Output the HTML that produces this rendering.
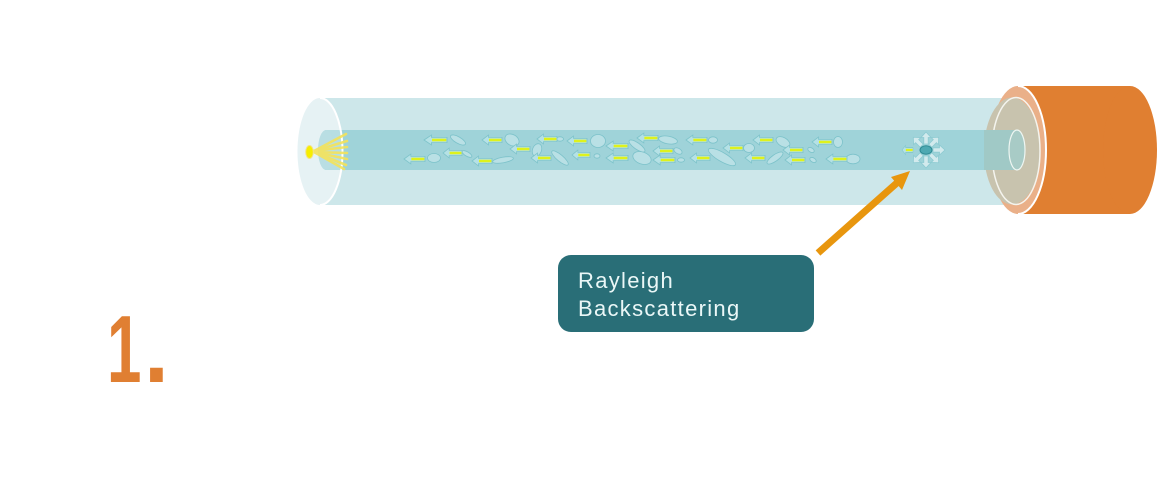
<!DOCTYPE html>
<html><head><meta charset="utf-8"><style>
html,body{margin:0;padding:0;background:#fff;}
body{position:relative;width:1159px;height:496px;overflow:hidden;}
svg{display:block;position:absolute;left:0;top:0;}
.num{position:absolute;top:302px;font-family:"Liberation Sans",Arial,sans-serif;font-weight:bold;font-size:96px;line-height:96px;color:#e07f32;white-space:nowrap;transform-origin:0 0;}
</style></head><body>
<svg width="1159" height="496" viewBox="0 0 1159 496" xmlns="http://www.w3.org/2000/svg">
<defs>
<g id="ar"><polygon points="0,0 6.5,-5 6.5,-2.6 20,-2.6 20,2.6 6.5,2.6 6.5,5" fill="#b5e1e5" stroke="#7fc4cb" stroke-width="0.8"/><line x1="7" y1="0" x2="19.4" y2="0" stroke="#def21c" stroke-width="2.6"/></g>
<g id="sa"><polygon points="0,0 5,5.5 2.2,5.5 2.2,12 -2.2,12 -2.2,5.5 -5,5.5" fill="#d2eaed" stroke="#8ccad1" stroke-width="0.8"/></g>
</defs>

<!-- tube body -->
<rect x="320" y="98" width="696" height="107" fill="#cde7ea"/>

<!-- orange connector -->
<rect x="1018" y="86" width="112" height="128" fill="#e07f31"/>
<ellipse cx="1130" cy="150" rx="27" ry="64" fill="#e07f31"/>
<ellipse cx="1018" cy="150" rx="28" ry="64" fill="#eab089"/>
<path d="M1018,86 A28,64 0 0 1 1018,214" fill="none" stroke="#fff" stroke-width="2"/>
<ellipse cx="1012" cy="151" rx="28" ry="53.5" fill="#c8c3ae"/>
<ellipse cx="1016" cy="151" rx="24" ry="53.5" fill="none" stroke="#f4f4ee" stroke-width="1.5"/>

<!-- left end face -->
<ellipse cx="320" cy="151.5" rx="22.5" ry="53.5" fill="#deeef1"/>

<!-- core -->
<rect x="325" y="130" width="692" height="40" fill="#9fd3d9"/>
<rect x="984" y="130" width="33" height="40" fill="#a0c9c6"/>
<ellipse cx="1017" cy="150" rx="8" ry="20" fill="#a8cbc6" stroke="#eef6f2" stroke-width="1.2"/>
<ellipse cx="320" cy="151.5" rx="22.5" ry="53.5" fill="#ffffff" opacity="0.25"/>
<ellipse cx="326" cy="150" rx="8" ry="20" fill="#b9dee3"/>
<path d="M320,98 A22.5,53.5 0 0 1 320,205" fill="none" stroke="#fff" stroke-width="2"/>

<!-- light source -->
<g stroke="#f4e35a" stroke-width="2.6" stroke-linecap="round" opacity="0.9">
<line x1="314" y1="151" x2="346" y2="134"/>
<line x1="314" y1="151" x2="347" y2="141"/>
<line x1="314" y1="151" x2="347" y2="147"/>
<line x1="314" y1="152" x2="347" y2="153"/>
<line x1="314" y1="152" x2="347" y2="159"/>
<line x1="314" y1="152" x2="346" y2="165"/>
<line x1="314" y1="152" x2="344" y2="169"/>
</g>
<ellipse cx="309.5" cy="152" rx="3.8" ry="6.5" fill="#f6ee00" stroke="#f3e38a" stroke-width="1"/>

<!-- particles -->
<g fill="#b9e0e5" stroke="#7cc2ca" stroke-width="0.8">
<ellipse cx="458" cy="140" rx="8.5" ry="3.2" transform="rotate(30 458 140)"/>
<ellipse cx="512" cy="140" rx="7.5" ry="5.5" transform="rotate(30 512 140)"/>
<ellipse cx="560" cy="139" rx="3.5" ry="2.2"/>
<ellipse cx="598" cy="141" rx="7.5" ry="6.5"/>
<ellipse cx="537" cy="150" rx="4.5" ry="6.5" transform="rotate(20 537 150)"/>
<ellipse cx="467" cy="154" rx="5.5" ry="2.2" transform="rotate(30 467 154)"/>
<ellipse cx="597" cy="156" rx="3" ry="2.2"/>
<ellipse cx="434" cy="158" rx="6.5" ry="4.5"/>
<ellipse cx="503" cy="160" rx="10.5" ry="2.8" transform="rotate(-10 503 160)"/>
<ellipse cx="560" cy="158" rx="10.5" ry="3.2" transform="rotate(40 560 158)"/>
<ellipse cx="668" cy="140" rx="9.5" ry="3.8" transform="rotate(10 668 140)"/>
<ellipse cx="713" cy="140" rx="4.5" ry="3.2"/>
<ellipse cx="783" cy="142" rx="7.5" ry="4.5" transform="rotate(30 783 142)"/>
<ellipse cx="838" cy="142" rx="4.5" ry="5.5"/>
<ellipse cx="637" cy="146" rx="9.5" ry="3.2" transform="rotate(35 637 146)"/>
<ellipse cx="642" cy="158" rx="9.5" ry="6" transform="rotate(20 642 158)"/>
<ellipse cx="678" cy="151" rx="4.5" ry="2.7" transform="rotate(30 678 151)"/>
<ellipse cx="749" cy="148" rx="5.5" ry="4.5"/>
<ellipse cx="722" cy="157" rx="15.5" ry="4.5" transform="rotate(30 722 157)"/>
<ellipse cx="811" cy="150" rx="3.5" ry="2.2" transform="rotate(30 811 150)"/>
<ellipse cx="681" cy="160" rx="3.5" ry="2.2"/>
<ellipse cx="775" cy="158" rx="9.5" ry="3.2" transform="rotate(-35 775 158)"/>
<ellipse cx="813" cy="160" rx="3.5" ry="2.2" transform="rotate(30 813 160)"/>
<ellipse cx="853" cy="159" rx="7" ry="4.8"/>
</g>

<use href="#ar" transform="translate(424,140) scale(1.15,1)"/>
<use href="#ar" transform="translate(482,140)"/>
<use href="#ar" transform="translate(537,139)"/>
<use href="#ar" transform="translate(567,141)"/>
<use href="#ar" transform="translate(510,149)"/>
<use href="#ar" transform="translate(443,153) scale(0.95,1)"/>
<use href="#ar" transform="translate(572,155) scale(0.9,1)"/>
<use href="#ar" transform="translate(404,159) scale(1.05,1)"/>
<use href="#ar" transform="translate(472,161)"/>
<use href="#ar" transform="translate(531,158)"/>
<use href="#ar" transform="translate(637,138) scale(1.05,1)"/>
<use href="#ar" transform="translate(686,140) scale(1.05,1)"/>
<use href="#ar" transform="translate(753,140)"/>
<use href="#ar" transform="translate(812,142)"/>
<use href="#ar" transform="translate(606,146) scale(1.1,1)"/>
<use href="#ar" transform="translate(606,158) scale(1.1,1)"/>
<use href="#ar" transform="translate(653,151)"/>
<use href="#ar" transform="translate(723,148)"/>
<use href="#ar" transform="translate(783,150)"/>
<use href="#ar" transform="translate(653,160) scale(1.1,1)"/>
<use href="#ar" transform="translate(690,158)"/>
<use href="#ar" transform="translate(745,158)"/>
<use href="#ar" transform="translate(785,160)"/>
<use href="#ar" transform="translate(826,159) scale(1.05,1)"/>

<!-- scattering event -->
<use href="#sa" transform="translate(926,150) rotate(0) translate(0,-18)"/>
<use href="#sa" transform="translate(926,150) rotate(45) translate(0,-18)"/>
<use href="#sa" transform="translate(926,150) rotate(90) translate(0,-19)"/>
<use href="#sa" transform="translate(926,150) rotate(135) translate(0,-18)"/>
<use href="#sa" transform="translate(926,150) rotate(180) translate(0,-18)"/>
<use href="#sa" transform="translate(926,150) rotate(225) translate(0,-18)"/>
<use href="#sa" transform="translate(926,150) rotate(315) translate(0,-18)"/>
<use href="#ar" transform="translate(902,150) scale(0.55,0.9)"/>
<ellipse cx="926" cy="150" rx="6" ry="4.2" fill="#4ea9b2" stroke="#2f8b94" stroke-width="1"/>

<!-- orange pointer arrow -->
<line x1="818" y1="253" x2="898" y2="182" stroke="#e8960e" stroke-width="7"/>
<polygon points="910,171 891,177 902,190" fill="#e8960e"/>

<!-- callout box -->
<rect x="558" y="255" width="256" height="77" rx="13" ry="13" fill="#296e77"/>
<text x="578" y="288" style="font-family:'Liberation Sans',sans-serif;font-size:22px;letter-spacing:1.3px" fill="#eaf7f7">Rayleigh</text>
<text x="578" y="316" style="font-family:'Liberation Sans',sans-serif;font-size:22px;letter-spacing:1.3px" fill="#eaf7f7">Backscattering</text>
</svg>
<div class="num" id="one" style="left:103px;">1</div>
<div class="num" id="dot" style="left:152px;">.</div>
<script>
(function(){
  try{
    var c=document.createElement('canvas').getContext('2d');
    c.font='bold 96px "Liberation Sans"';
    function fit(el,L,R){
      var m=c.measureText(el.textContent);
      if(!m||m.actualBoundingBoxRight===undefined)return;
      var l=-m.actualBoundingBoxLeft, r=m.actualBoundingBoxRight;
      var w=r-l; if(!(w>0))return;
      var s=(R-L)/w;
      el.style.left=(L-l*s)+'px';
      el.style.transform='scaleX('+s+')';
    }
    fit(document.getElementById('one'),111,140);
    fit(document.getElementById('dot'),150,164);
  }catch(e){}
})();
</script>
</body></html>
